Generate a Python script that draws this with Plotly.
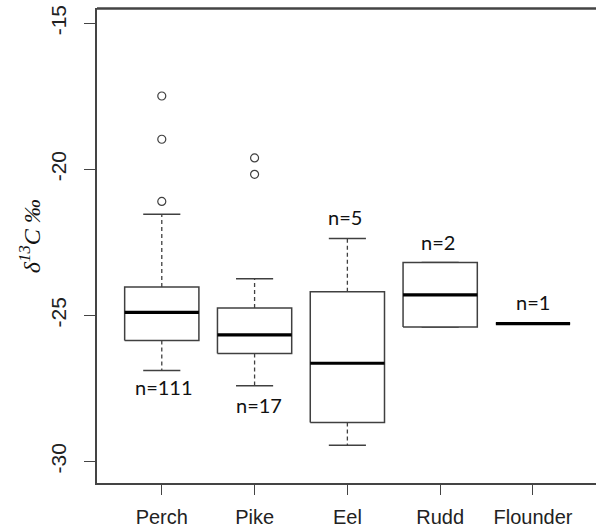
import plotly.graph_objects as go

# ---- data ----
categories = ["Perch", "Pike", "Eel", "Rudd", "Flounder"]
lower_whisker = [-26.89, -27.41, -29.45, -25.40, -25.28]
q1 = [-25.86, -26.31, -28.67, -25.40, -25.28]
median = [-24.90, -25.67, -26.64, -24.30, -25.28]
q3 = [-24.03, -24.75, -24.19, -23.19, -25.28]
upper_whisker = [-21.54, -23.75, -22.37, -23.19, -25.28]
outlier_cat = ["Perch", "Perch", "Perch", "Pike", "Pike"]
outlier_val = [-17.49, -18.97, -21.10, -19.61, -20.17]
n_labels = ["n=111", "n=17", "n=5", "n=2", "n=1"]
y_ticks = [-30, -25, -20, -15]

# ---- style ----
HALF_BOX = 0.40
HALF_CAP = 0.20
BOX_COL = "#404040"
W, H = 596, 528
X_RANGE = [0.302, 5.679]
Y_RANGE = [-30.74, -14.477]
label_above = [False, False, True, True, True]
label_shift_px = [-16, -19, 22, 20, 22]
label_xshift_px = [2, 4, -2, -2, 0]

pos = {c: i + 1 for i, c in enumerate(categories)}
fig = go.Figure()

for i, c in enumerate(categories):
    x0 = pos[c]
    fig.add_trace(go.Scatter(x=[x0, x0, None, x0, x0],
                             y=[q3[i], upper_whisker[i], None, q1[i], lower_whisker[i]],
                             mode="lines", line=dict(color=BOX_COL, width=1.3, dash="4px,3px"),
                             showlegend=False, hoverinfo="skip"))
    fig.add_trace(go.Scatter(x=[x0 - HALF_CAP, x0 + HALF_CAP, None, x0 - HALF_CAP, x0 + HALF_CAP],
                             y=[upper_whisker[i], upper_whisker[i], None, lower_whisker[i], lower_whisker[i]],
                             mode="lines", line=dict(color=BOX_COL, width=1.5),
                             showlegend=False, hoverinfo="skip"))
    fig.add_trace(go.Scatter(x=[x0 - HALF_BOX, x0 + HALF_BOX, x0 + HALF_BOX, x0 - HALF_BOX, x0 - HALF_BOX],
                             y=[q1[i], q1[i], q3[i], q3[i], q1[i]],
                             mode="lines", line=dict(color=BOX_COL, width=1.5),
                             fill="toself", fillcolor="white",
                             showlegend=False, hoverinfo="skip"))
    fig.add_trace(go.Scatter(x=[x0 - HALF_BOX, x0 + HALF_BOX], y=[median[i], median[i]],
                             mode="lines", line=dict(color="black", width=3.2),
                             showlegend=False, hoverinfo="skip"))

fig.add_trace(go.Scatter(x=[pos[c] for c in outlier_cat], y=outlier_val, mode="markers",
                         marker=dict(symbol="circle-open", size=8, color=BOX_COL, line=dict(width=1.2)),
                         showlegend=False, hoverinfo="skip"))

# top frame line (just inside the plot area)
fig.add_trace(go.Scatter(x=X_RANGE, y=[Y_RANGE[1] - 0.03, Y_RANGE[1] - 0.03], mode="lines",
                         line=dict(color="#444", width=1.6), showlegend=False, hoverinfo="skip"))
fig.add_shape(type="line", xref="paper", yref="paper", x0=0, x1=1, y0=1, y1=1,
              line=dict(color="#444", width=1.6))

for i, c in enumerate(categories):
    yref_val = upper_whisker[i] if label_above[i] else lower_whisker[i]
    fig.add_annotation(x=pos[c], y=yref_val, text=n_labels[i], showarrow=False,
                       xanchor="center", yanchor="middle",
                       yshift=label_shift_px[i], xshift=label_xshift_px[i],
                       font=dict(family="Lato", size=20, color="#111"))

fig.add_annotation(x=-0.134, y=0.52, xref="paper", yref="paper",
                   text="<i>δ<sup>13</sup>C ‰</i>", textangle=-90, showarrow=False,
                   xanchor="center", yanchor="middle",
                   font=dict(family="Liberation Serif", size=24, color="#111"))

fig.update_layout(
    width=W, height=H,
    margin=dict(l=97, r=0, t=8, b=45),
    plot_bgcolor="white", paper_bgcolor="white",
    xaxis=dict(range=X_RANGE, tickmode="array", tickvals=[pos[c] for c in categories],
               ticktext=categories, showgrid=False, zeroline=False,
               showline=True, mirror=False, linecolor="#444", linewidth=1.5,
               ticks="outside", ticklen=10, tickwidth=1.3, tickcolor="#444",
               ticklabelstandoff=5,
               tickfont=dict(family="Liberation Sans", size=20, color="#222")),
    yaxis=dict(range=Y_RANGE, tickmode="array", tickvals=y_ticks,
               ticktext=[str(v) for v in y_ticks], showgrid=False, zeroline=False,
               showline=True, mirror=False, linecolor="#444", linewidth=1.5,
               ticks="outside", ticklen=11, tickwidth=1.3, tickcolor="#444",
               tickangle=-90, ticklabelstandoff=10,
               tickfont=dict(family="Liberation Sans", size=21, color="#222")),
)

fig.write_html("out.html", config={"displayModeBar": False},
               post_script="document.body.style.margin='0';document.body.style.overflow='hidden';")
